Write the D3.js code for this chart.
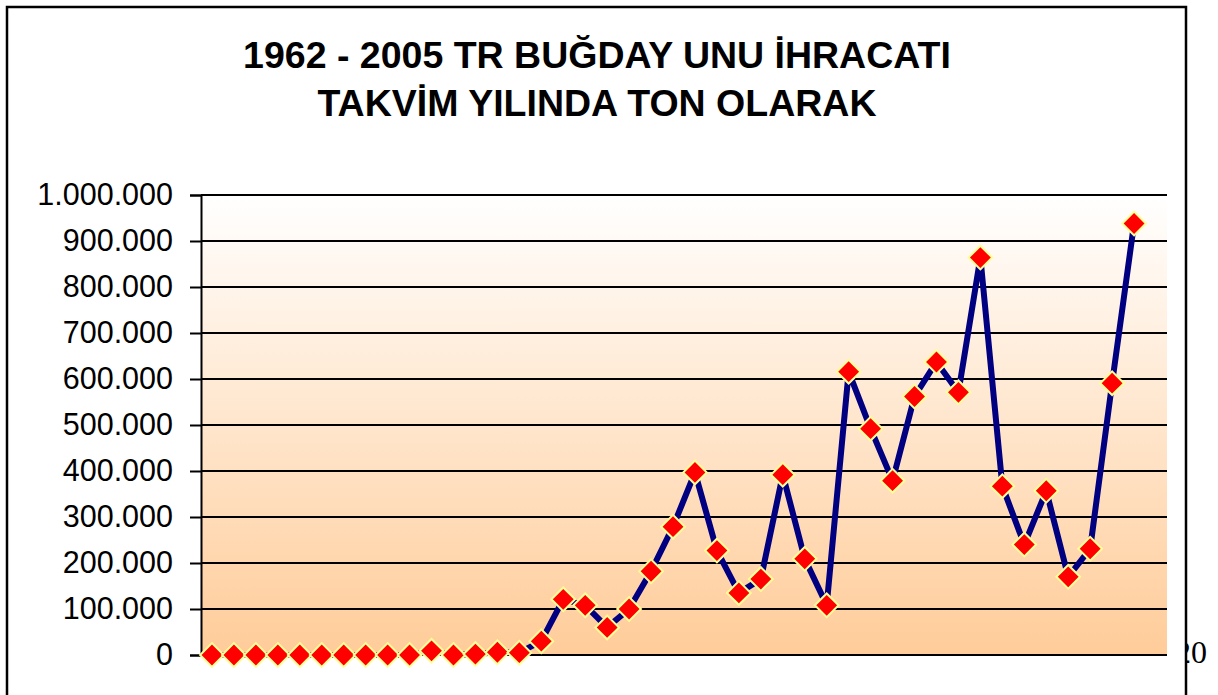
<!DOCTYPE html>
<html>
<head>
<meta charset="utf-8">
<script src="https://cdn.jsdelivr.net/npm/d3@7"></script>
<style>
  body { margin: 0; background: #fff; }
  svg { display: block; }
</style>
</head>
<body>
<div id="chart"></div>
<script>
// Years on the category axis (2005 has no value in the source)
const years = d3.range(1962, 2006).map(String);

// Export, tonnes per calendar year
const tonnes = [
  0, 0, 0, 0, 0, 0, 0, 0, 0, 0,
  9000, 0, 2000, 6000, 5000,
  30000, 121000, 108000, 60000, 100000,
  182000, 279000, 397000, 227000, 135000,
  165000, 392000, 209000, 108000, 616000,
  492000, 379000, 562000, 637000, 571000,
  864000, 367000, 240000, 357000, 170000,
  231000, 591000, 938000, null
];

const yTicks = d3.range(0, 1000001, 100000);

const titleLines = ["1962 - 2005 TR BUĞDAY UNU İHRACATI", "TAKVİM YILINDA TON OLARAK"];

const width = 1218;
const height = 695;
const plot = { left: 201, right: 1167, top: 195, bottom: 655 };

const svg = d3.select("#chart")
  .append("svg")
  .attr("width", width)
  .attr("height", height);

const defs = svg.append("defs");
const grad = defs.append("linearGradient")
  .attr("id", "bg")
  .attr("x1", 0).attr("y1", 0)
  .attr("x2", 0).attr("y2", 1);
grad.append("stop").attr("offset", "0%").attr("stop-color", "#ffffff");
grad.append("stop").attr("offset", "100%").attr("stop-color", "#ffcc99");

defs.append("clipPath").attr("id", "cut")
  .append("rect")
  .attr("x", 1186).attr("y", 0)
  .attr("width", 40).attr("height", height);

const x = d3.scaleBand()
  .domain(years)
  .range([plot.left, plot.right]);

const y = d3.scaleLinear()
  .domain([0, 1000000])
  .range([plot.bottom, plot.top]);

const tr = d3.formatLocale({ decimal: ",", thousands: ".", grouping: [3], currency: ["", ""] });
const fmt = tr.format(",.0f");

// plot background
svg.append("rect")
  .attr("x", plot.left)
  .attr("y", plot.top)
  .attr("width", plot.right - plot.left)
  .attr("height", plot.bottom - plot.top)
  .attr("fill", "url(#bg)");

// gridlines
svg.append("g")
  .selectAll("line")
  .data(yTicks)
  .join("line")
  .attr("x1", plot.left)
  .attr("x2", plot.right)
  .attr("y1", d => y(d))
  .attr("y2", d => y(d))
  .attr("stroke", "#000")
  .attr("stroke-width", 2);

// y axis
const yAxis = svg.append("g")
  .attr("transform", `translate(${plot.left},0)`)
  .call(d3.axisLeft(y).tickValues(yTicks).tickFormat(fmt).tickSize(11).tickPadding(17));
yAxis.select(".domain").attr("stroke", "#000").attr("stroke-width", 2);
yAxis.selectAll(".tick line").attr("stroke", "#000").attr("stroke-width", 2);
yAxis.selectAll(".tick text")
  .attr("font-family", "Arial, 'Liberation Sans', sans-serif")
  .attr("font-size", 30.5)
  .attr("fill", "#000");

// x axis line
svg.append("line")
  .attr("x1", plot.left)
  .attr("x2", plot.right)
  .attr("y1", y(0))
  .attr("y2", y(0))
  .attr("stroke", "#000")
  .attr("stroke-width", 2);

// series line
const line = d3.line()
  .defined(d => d != null)
  .x((d, i) => x(years[i]) + x.bandwidth() / 2)
  .y(d => y(d));

svg.append("path")
  .datum(tonnes)
  .attr("d", line)
  .attr("fill", "none")
  .attr("stroke", "#000080")
  .attr("stroke-width", 6)
  .attr("stroke-linejoin", "round");

// diamond markers
const pts = tonnes.map((v, i) => ({ year: years[i], v })).filter(d => d.v != null);
svg.append("g")
  .selectAll("path")
  .data(pts)
  .join("path")
  .attr("d", d3.symbol(d3.symbolSquare, 280))
  .attr("transform", d => `translate(${x(d.year) + x.bandwidth() / 2},${y(d.v)}) rotate(45)`)
  .attr("fill", "#ff0000")
  .attr("stroke", "#ffff99")
  .attr("stroke-width", 2);

// title
svg.append("g")
  .selectAll("text")
  .data(titleLines)
  .join("text")
  .attr("x", 597)
  .attr("y", (d, i) => 68 + i * 48)
  .attr("text-anchor", "middle")
  .attr("font-family", "Arial, 'Liberation Sans', sans-serif")
  .attr("font-weight", "bold")
  .attr("font-size", 37.5)
  .attr("fill", "#000")
  .text(d => d);

// clipped category label peeking past the frame
svg.append("text")
  .attr("clip-path", "url(#cut)")
  .attr("x", 1175)
  .attr("y", 663)
  .attr("font-family", "'Times New Roman', 'Liberation Serif', serif")
  .attr("font-size", 32)
  .attr("fill", "#000")
  .text("20");

// outer frame
svg.append("path")
  .attr("d", `M7,${height + 5} V7 H1186 V${height + 5}`)
  .attr("fill", "none")
  .attr("stroke", "#000")
  .attr("stroke-width", 2.5);
</script>
</body>
</html>
